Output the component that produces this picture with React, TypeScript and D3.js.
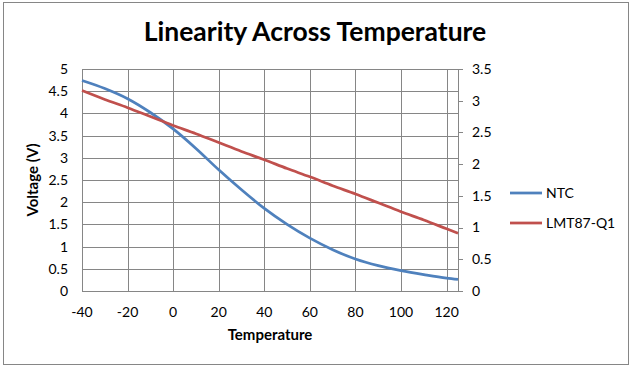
import * as d3 from "d3";

const temps = [-40, -30, -20, -10, 0, 10, 20, 30, 40, 50, 60, 70, 80, 90, 100, 110, 120, 125];
const ntcVolts = [4.74, 4.56, 4.33, 4.02, 3.65, 3.21, 2.73, 2.28, 1.86, 1.5, 1.19, 0.93, 0.72, 0.57, 0.46, 0.37, 0.29, 0.26];
const lmtVolts = [3.16, 3.02, 2.89, 2.75, 2.61, 2.48, 2.34, 2.2, 2.07, 1.93, 1.8, 1.66, 1.53, 1.39, 1.25, 1.12, 0.98, 0.91];
const xTicks = [-40, -20, 0, 20, 40, 60, 80, 100, 120];
const leftTicks = [0, 0.5, 1, 1.5, 2, 2.5, 3, 3.5, 4, 4.5, 5];
const rightTicks = [0, 0.5, 1, 1.5, 2, 2.5, 3, 3.5];
const seriesNames = ["NTC", "LMT87-Q1"];
const seriesColors = ["#4f81bd", "#c0504d"];

const W = 633;
const H = 369;
const margin = { left: 82, right: 175, top: 69, bottom: 78 };
const font = "Lato, 'Open Sans', sans-serif";
const grid = "#868686";

export default function App() {
  const x = d3.scaleLinear().domain([-40, 125]).range([margin.left, W - margin.right]);
  const yL = d3.scaleLinear().domain([0, 5]).range([H - margin.bottom, margin.top]);
  const yR = d3.scaleLinear().domain([0, 3.5]).range([H - margin.bottom, margin.top]);

  const ntcLine = d3
    .line<number>()
    .x((d, i) => x(temps[i]))
    .y((d) => yL(d))
    .curve(d3.curveMonotoneX);
  const lmtLine = d3
    .line<number>()
    .x((d, i) => x(temps[i]))
    .y((d) => yR(d))
    .curve(d3.curveMonotoneX);

  const x0 = x(-40);
  const x1 = x(125);
  const y0 = yL(0);
  const yTop = yL(5);

  return (
    <svg
      width={W}
      height={H}
      style={{ position: "fixed", left: 0, top: 0, background: "#fff" }}
      fontFamily={font}
    >
      <rect x={3.5} y={2.5} width={625} height={362} fill="#fff" stroke="#868686" strokeWidth={1} />

      <text x={315} y={41} textAnchor="middle" fontSize={26.5} fontWeight="bold">
        Linearity Across Temperature
      </text>

      {/* grid */}
      {leftTicks.map((t) => (
        <line key={"h" + t} x1={x0} x2={x1} y1={Math.round(yL(t)) + 0.5} y2={Math.round(yL(t)) + 0.5} stroke={grid} />
      ))}
      {xTicks.map((t) => (
        <line key={"v" + t} x1={Math.round(x(t)) + 0.5} x2={Math.round(x(t)) + 0.5} y1={yTop} y2={y0} stroke={grid} />
      ))}
      <line x1={Math.round(x1) + 0.5} x2={Math.round(x1) + 0.5} y1={yTop} y2={y0} stroke={grid} />
      {rightTicks.map((t) => (
        <line key={"rt" + t} x1={x1} x2={x1 + 5} y1={Math.round(yR(t)) + 0.5} y2={Math.round(yR(t)) + 0.5} stroke={grid} />
      ))}

      {/* axis labels */}
      {leftTicks.map((t) => (
        <text key={"l" + t} x={68} y={yL(t)} dy="0.35em" textAnchor="end" fontSize={14}>
          {t}
        </text>
      ))}
      {rightTicks.map((t) => (
        <text key={"r" + t} x={472} y={yR(t)} dy="0.35em" textAnchor="start" fontSize={14}>
          {t}
        </text>
      ))}
      {xTicks.map((t) => (
        <text key={"x" + t} x={x(t)} y={312} dy="0.35em" textAnchor="middle" fontSize={14}>
          {t}
        </text>
      ))}

      <text x={270} y={335} dy="0.35em" textAnchor="middle" fontSize={15} fontWeight="bold">
        Temperature
      </text>
      <text
        transform={`translate(33, ${(yTop + y0) / 2}) rotate(-90)`}
        textAnchor="middle"
        dy="0.35em"
        fontSize={15}
        fontWeight="bold"
      >
        Voltage (V)
      </text>

      <path d={ntcLine(ntcVolts) ?? ""} fill="none" stroke={seriesColors[0]} strokeWidth={2.75} strokeLinejoin="round" />
      <path d={lmtLine(lmtVolts) ?? ""} fill="none" stroke={seriesColors[1]} strokeWidth={2.75} strokeLinejoin="round" />

      {/* legend */}
      {seriesNames.map((n, i) => (
        <g key={n} transform={`translate(510, ${193 + i * 30})`}>
          <line x1={0} x2={32} y1={0} y2={0} stroke={seriesColors[i]} strokeWidth={2.75} />
          <text x={36} y={0} dy="0.35em" fontSize={14}>
            {n}
          </text>
        </g>
      ))}
    </svg>
  );
}
